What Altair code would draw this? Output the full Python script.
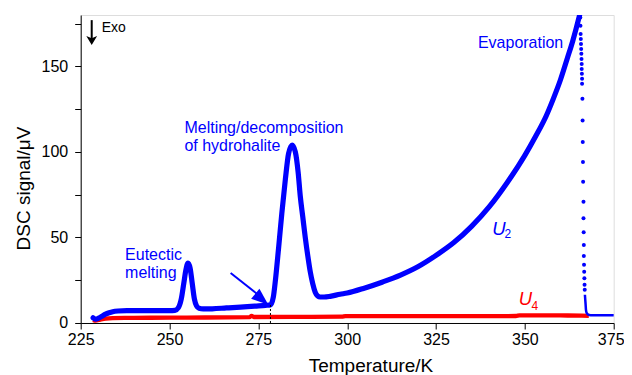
import altair as alt
import pandas as pd

FONT = "Liberation Sans"
BLUE = "#0000ff"
RED = "#ff0000"

# ---- U2 (blue) continuous trace ----
u2_T = [228.5, 229.2, 230.0, 231.0, 232.0, 233.0, 234.0, 235.5, 238, 242, 246, 250, 251.5, 252.5,
        253.3, 254.0, 254.6, 255.2, 255.8, 256.4, 257.0, 257.6, 258.3, 259.5, 262, 266, 270, 274,
        277, 278.4, 279.2, 279.8, 280.7, 281.6, 282.6, 283.5, 284.5, 285.4, 286.2, 286.8, 287.5,
        288.2, 289.0, 289.6, 290.3, 291.0, 291.7, 292.4, 293.5, 295.2, 298, 300, 305, 310, 315,
        320, 325, 330, 335, 340, 345, 350, 353, 356, 358, 360, 362, 363.5, 365.3, 366.0]
u2_V = [3.0, 2.3, 2.8, 4.0, 5.2, 6.0, 6.6, 7.0, 7.2, 7.2, 7.2, 7.2, 7.4, 9.0,
        14, 23, 31, 35, 32, 23, 14, 10, 8.6, 8.2, 8.3, 8.8, 9.3, 9.9,
        10.3, 10.6, 15, 25, 44, 64, 84, 99, 104, 100, 88, 74, 62,
        50, 38, 30, 23, 18, 15.8, 15.2, 15.2, 15.6, 16.8, 17.5, 20.5, 24.0, 28.0,
        33.0, 39.5, 47.0, 56.5, 68.0, 82.0, 98.0, 109, 121, 131, 142, 155, 165, 179, 185]

# ---- U2 evaporation drop (sparse points) ----
dots_T = [365.6, 365.65, 365.7, 365.75, 365.8, 365.85, 365.9, 365.95, 366.0, 366.0, 366.05,
          366.1, 366.1, 366.2, 366.25, 366.3, 366.35, 366.4, 366.5, 366.5, 366.55, 366.6,
          366.6, 366.65, 366.7, 366.75, 366.8, 366.85]
dots_V = [178.6, 173.7, 168.9, 166, 163, 160.2, 157.3, 154.3, 151.4, 148.5, 145.6,
          142.7, 139.8, 131, 118.4, 105.8, 94.1, 82.5, 70.8, 61.2, 53, 45.6,
          39.2, 34, 30, 26.2, 22.3, 19.4]

# ---- U2 tail after evaporation ----
tail_T = [366.9, 367.0, 367.1, 367.2, 367.4, 367.8, 368.5, 375]
tail_V = [16.5, 13.6, 10.7, 7.7, 5.8, 4.9, 4.6, 4.5]

# ---- U4 (red) ----
u4_T = [228.5, 229.2, 230.5, 232, 234, 240, 250, 260, 272.5, 273.1, 273.7, 285, 298.5, 299.5,
        320, 340, 347.5, 348.5, 360, 366, 368]
u4_V = [1.8, 1.4, 2.0, 2.6, 2.9, 3.0, 3.1, 3.2, 3.4, 4.2, 3.5, 3.6, 3.7, 4.0,
        4.0, 4.0, 4.1, 4.4, 4.4, 4.3, 4.2]

x_ticks = [225, 250, 275, 300, 325, 350, 375]
y_ticks = [0, 25, 50, 75, 100, 125, 150, 175]

u2 = pd.DataFrame({"T": u2_T, "V": u2_V})
dots = pd.DataFrame({"T": dots_T, "V": dots_V})
tail = pd.DataFrame({"T": tail_T, "V": tail_V})
u4 = pd.DataFrame({"T": u4_T, "V": u4_V})

X = alt.X("T:Q", scale=alt.Scale(domain=[225, 375], nice=False, zero=False),
          title="Temperature/K",
          axis=alt.Axis(values=x_ticks, grid=False, labelFlush=False,
                        labelOffset=alt.condition("datum.value == 375", alt.value(-3), alt.value(0)),
                        labelFont=FONT, labelFontSize=16, labelColor="black", labelPadding=3,
                        titleFont=FONT, titleFontSize=19, titleFontWeight="normal", titleColor="black",
                        titleX=289.8, titleY=48.7, titleBaseline="alphabetic",
                        domainColor="black", tickColor="black", tickSize=6))
Y = alt.Y("V:Q", scale=alt.Scale(domain=[0, 180], nice=False),
          title="DSC signal/μV",
          axis=alt.Axis(values=y_ticks, grid=False,
                        labelExpr="datum.value % 50 == 0 ? datum.label : ''",
                        labelFont=FONT, labelFontSize=16, labelColor="black", labelPadding=7,
                        titleFont=FONT, titleFontSize=19, titleFontWeight="normal", titleColor="black",
                        titleX=-51, titleY=173, titleBaseline="alphabetic",
                        domainColor="black", tickColor="black", tickSize=6))

red_line = alt.Chart(u4).mark_line(color=RED, strokeWidth=4.3, interpolate="monotone").encode(x=X, y=Y)
blue_line = alt.Chart(u2).mark_line(color=BLUE, strokeWidth=5.2, interpolate="monotone",
                                    clip=True, strokeCap="round", strokeJoin="round").encode(x=X, y=Y)
tail_line = alt.Chart(tail).mark_line(color=BLUE, strokeWidth=2.5, interpolate="monotone").encode(x=X, y=Y)
dot_layer = alt.Chart(dots).mark_circle(color=BLUE, size=16, opacity=1).encode(x=X, y=Y)

# dashed marker at onset
onset = pd.DataFrame({"T": [278.4], "V": [0], "V2": [10.6]})
onset_rule = alt.Chart(onset).mark_rule(color="black", strokeWidth=1, strokeDash=[2, 2]).encode(
    x=X, y=Y, y2=alt.Y2("V2:Q"))

# blue arrow pointing at onset
arrow_shaft = pd.DataFrame({"T": [267.2], "V": [29.2], "T2": [275.0], "V2": [16.4]})
shaft = alt.Chart(arrow_shaft).mark_rule(color=BLUE, strokeWidth=2).encode(
    x=X, y=Y, x2=alt.X2("T2:Q"), y2=alt.Y2("V2:Q"))
arrow_tip = pd.DataFrame({"T": [277.8], "V": [10.7]})
head = alt.Chart(arrow_tip).mark_point(shape="M0,0 L-0.38,1 L0.38,1 Z", filled=True, color=BLUE,
                                       opacity=1, size=1156, angle=130, strokeWidth=0).encode(x=X, y=Y)

# Exo arrow
exo_shaft_df = pd.DataFrame({"T": [228.1], "V": [177.0], "V2": [164.5]})
exo_shaft = alt.Chart(exo_shaft_df).mark_rule(color="black", strokeWidth=2).encode(
    x=X, y=Y, y2=alt.Y2("V2:Q"))
exo_tip = pd.DataFrame({"T": [228.1], "V": [162.5]})
exo_head = alt.Chart(exo_tip).mark_point(shape="M0,0 L-0.6,-1 L0,-0.75 L0.6,-1 Z", filled=True,
                                         color="black", opacity=1, size=324, strokeWidth=0).encode(x=X, y=Y)

# annotation text
ann_text = ["Eutectic", "melting", "Melting/decomposition", "of hydrohalite", "Evaporation"]
ann_T = [237.5, 237.5, 254.2, 254.2, 336.8]
ann_V = [37.0, 26.3, 110.9, 100.8, 160.5]
ann = pd.DataFrame({"T": ann_T, "V": ann_V, "txt": ann_text})
ann_layer = alt.Chart(ann).mark_text(font=FONT, fontSize=16, color=BLUE, align="left",
                                     baseline="alphabetic").encode(x=X, y=Y, text="txt:N")

exo_df = pd.DataFrame({"T": [230.9], "V": [169.9], "txt": ["Exo"]})
exo_text = alt.Chart(exo_df).mark_text(font=FONT, fontSize=14, color="black", align="left",
                                       baseline="alphabetic").encode(x=X, y=Y, text="txt:N")

# series labels
lab_U = pd.DataFrame({"T": [340.8, 348.3], "V": [51.5, 10.7], "txt": ["U", "U"], "c": [BLUE, RED]})
lab_sub = pd.DataFrame({"T": [344.3, 351.9], "V": [49.6, 7.8], "txt": ["2", "4"], "c": [BLUE, RED]})
U_layer = alt.Chart(lab_U).mark_text(font=FONT, fontSize=18.5, fontStyle="italic", align="left",
                                     baseline="alphabetic").encode(
    x=X, y=Y, text="txt:N", color=alt.Color("c:N", scale=None))
sub_layer = alt.Chart(lab_sub).mark_text(font=FONT, fontSize=12, align="left",
                                         baseline="alphabetic").encode(
    x=X, y=Y, text="txt:N", color=alt.Color("c:N", scale=None))

chart = alt.layer(
    red_line, blue_line, tail_line, dot_layer, onset_rule, shaft, head,
    exo_shaft, exo_head, ann_layer, exo_text, U_layer, sub_layer
).properties(
    width=533, height=308,
    autosize=alt.AutoSizeParams(type="none"),
    padding={"left": 72.7, "top": 7, "right": 10, "bottom": 52},
).configure_view(stroke="#c8c8c8", strokeWidth=1).configure(background="white")

chart.save("out.html", embed_options={"renderer": "svg", "actions": False})
